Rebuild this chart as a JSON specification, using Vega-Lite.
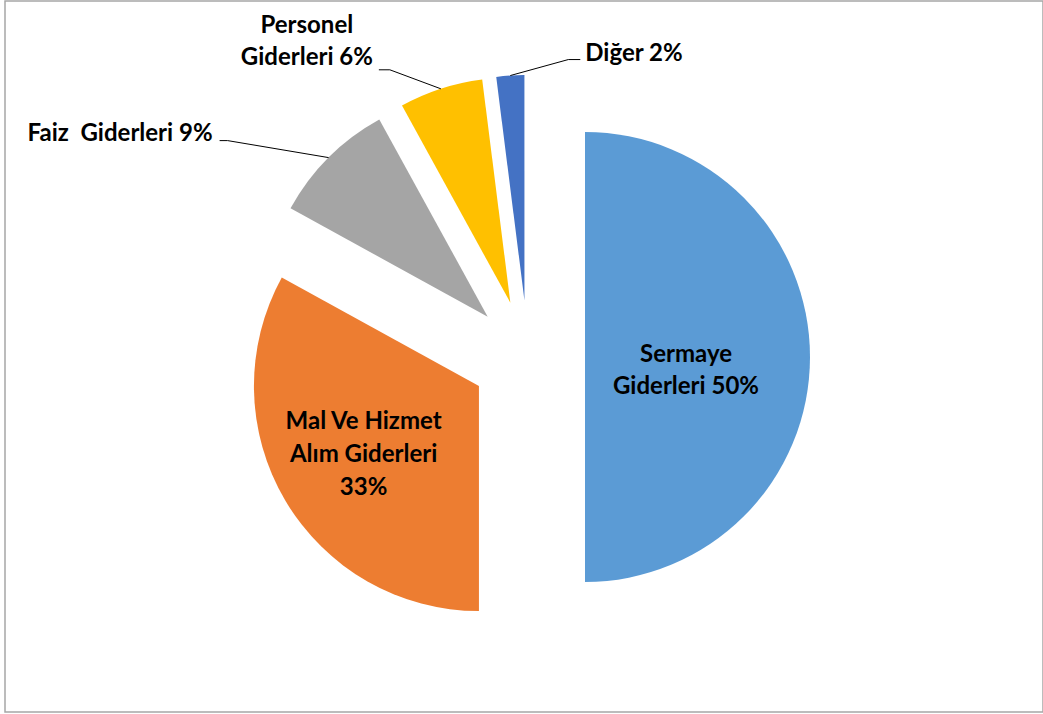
{
  "$schema": "https://vega.github.io/schema/vega-lite/v6.json",
  "width": 1038,
  "height": 711,
  "autosize": {"type": "none"},
  "padding": {"left": 5, "top": 1, "right": 0, "bottom": 2},
  "background": "white",
  "config": {"view": {"stroke": "#A6A6A6", "strokeWidth": 1.5}},
  "data": {"values": [
    {"sira": 1, "ad": "Sermaye Giderleri", "pay": 50, "etiket": "Sermaye\nGiderleri 50%"},
    {"sira": 2, "ad": "Mal Ve Hizmet Alım Giderleri", "pay": 33, "etiket": "Mal Ve Hizmet\nAlım Giderleri\n33%"},
    {"sira": 3, "ad": "Faiz Giderleri", "pay": 9, "etiket": "Faiz\u00a0 Giderleri 9%"},
    {"sira": 4, "ad": "Personel Giderleri", "pay": 6, "etiket": "Personel\nGiderleri 6%"},
    {"sira": 5, "ad": "Diğer", "pay": 2, "etiket": "Diğer 2%"}
  ]},
  "transform": [
    {"window": [{"op": "sum", "field": "pay", "as": "bitis"}], "sort": [{"field": "sira"}], "frame": [null, 0]},
    {"joinaggregate": [{"op": "sum", "field": "pay", "as": "toplam"}]},
    {"calculate": "100*(datum.bitis-datum.pay)/datum.toplam", "as": "t0"},
    {"calculate": "100*datum.bitis/datum.toplam", "as": "t1"},
    {"calculate": "(datum.t0+datum.t1)/2", "as": "tm"},
    {"calculate": "datum.tm*PI/50", "as": "aci"},
    {"calculate": "57*sin(datum.aci)", "as": "ex"},
    {"calculate": "-57*cos(datum.aci)", "as": "ey"},
    {"calculate": "datum.ex+225*sin(datum.aci)", "as": "kx"},
    {"calculate": "datum.ey-225*cos(datum.aci)", "as": "ky"}
  ],
  "layer": [
    {
      "mark": {"type": "arc", "radius": 225},
      "encoding": {
        "x": {"field": "ex", "type": "quantitative", "scale": {"domain": [-523, 515], "range": [0, 1038], "nice": false, "zero": false}, "axis": null},
        "y": {"field": "ey", "type": "quantitative", "scale": {"domain": [-356, 355], "range": [0, 711], "nice": false, "zero": false}, "axis": null},
        "theta": {"field": "t0", "type": "quantitative", "stack": null, "scale": {"domain": [0, 100], "range": [0, 6.283185307179586]}},
        "theta2": {"field": "t1"},
        "color": {"field": "ad", "type": "nominal", "legend": null, "scale": {
          "domain": ["Sermaye Giderleri", "Mal Ve Hizmet Alım Giderleri", "Faiz Giderleri", "Personel Giderleri", "Diğer"],
          "range": ["#5B9BD5", "#ED7D31", "#A5A5A5", "#FFC000", "#4472C4"]}}
      }
    },
    {
      "transform": [{"filter": "datum.sira == 1"}],
      "mark": {"type": "text", "radius": 101, "dy": -2, "align": "center", "baseline": "middle", "lineBreak": "\n", "lineHeight": 32, "fontSize": 24, "fontWeight": "bold", "font": "Lato", "color": "#000000"},
      "encoding": {
        "x": {"field": "ex", "type": "quantitative", "scale": {"domain": [-523, 515], "range": [0, 1038], "nice": false, "zero": false}, "axis": null},
        "y": {"field": "ey", "type": "quantitative", "scale": {"domain": [-356, 355], "range": [0, 711], "nice": false, "zero": false}, "axis": null},
        "theta": {"field": "tm", "type": "quantitative", "stack": null, "scale": {"domain": [0, 100], "range": [0, 6.283185307179586]}},
        "text": {"field": "etiket"}
      }
    },
    {
      "transform": [{"filter": "datum.sira == 2"}],
      "mark": {"type": "text", "radius": 134, "dy": -32, "align": "center", "baseline": "middle", "lineBreak": "\n", "lineHeight": 33, "fontSize": 24, "fontWeight": "bold", "font": "Lato", "color": "#000000"},
      "encoding": {
        "x": {"field": "ex", "type": "quantitative", "scale": {"domain": [-523, 515], "range": [0, 1038], "nice": false, "zero": false}, "axis": null},
        "y": {"field": "ey", "type": "quantitative", "scale": {"domain": [-356, 355], "range": [0, 711], "nice": false, "zero": false}, "axis": null},
        "theta": {"field": "tm", "type": "quantitative", "stack": null, "scale": {"domain": [0, 100], "range": [0, 6.283185307179586]}},
        "text": {"field": "etiket"}
      }
    },
    {
      "transform": [
        {"filter": "datum.sira == 3"},
        {"calculate": "datum.kx-101", "as": "dx1"},
        {"calculate": "datum.ky-17", "as": "dy1"},
        {"calculate": "datum.dx1-8", "as": "ux"}
      ],
      "layer": [
        {
          "mark": {"type": "rule", "color": "#000000", "strokeWidth": 1},
          "encoding": {
            "x": {"field": "kx", "type": "quantitative", "scale": {"domain": [-523, 515], "range": [0, 1038], "nice": false, "zero": false}, "axis": null},
            "y": {"field": "ky", "type": "quantitative", "scale": {"domain": [-356, 355], "range": [0, 711], "nice": false, "zero": false}, "axis": null},
            "x2": {"field": "dx1"},
            "y2": {"field": "dy1"}
          }
        },
        {
          "mark": {"type": "rule", "color": "#000000", "strokeWidth": 1},
          "encoding": {
            "x": {"field": "dx1", "type": "quantitative", "scale": {"domain": [-523, 515], "range": [0, 1038], "nice": false, "zero": false}, "axis": null},
            "y": {"field": "dy1", "type": "quantitative", "scale": {"domain": [-356, 355], "range": [0, 711], "nice": false, "zero": false}, "axis": null},
            "x2": {"field": "ux"},
            "y2": {"field": "dy1"}
          }
        },
        {
          "mark": {"type": "text", "align": "right", "baseline": "alphabetic", "dx": -7, "dy": 0, "fontSize": 24, "fontWeight": "bold", "font": "Lato", "color": "#000000"},
          "encoding": {
            "x": {"field": "ux", "type": "quantitative", "scale": {"domain": [-523, 515], "range": [0, 1038], "nice": false, "zero": false}, "axis": null},
            "y": {"field": "dy1", "type": "quantitative", "scale": {"domain": [-356, 355], "range": [0, 711], "nice": false, "zero": false}, "axis": null},
            "text": {"field": "etiket"}
          }
        }
      ]
    },
    {
      "transform": [
        {"filter": "datum.sira == 4"},
        {"calculate": "datum.kx-51", "as": "dx1"},
        {"calculate": "datum.ky-19", "as": "dy1"},
        {"calculate": "datum.dx1-11", "as": "ux"}
      ],
      "layer": [
        {
          "mark": {"type": "rule", "color": "#000000", "strokeWidth": 1},
          "encoding": {
            "x": {"field": "kx", "type": "quantitative", "scale": {"domain": [-523, 515], "range": [0, 1038], "nice": false, "zero": false}, "axis": null},
            "y": {"field": "ky", "type": "quantitative", "scale": {"domain": [-356, 355], "range": [0, 711], "nice": false, "zero": false}, "axis": null},
            "x2": {"field": "dx1"},
            "y2": {"field": "dy1"}
          }
        },
        {
          "mark": {"type": "rule", "color": "#000000", "strokeWidth": 1},
          "encoding": {
            "x": {"field": "dx1", "type": "quantitative", "scale": {"domain": [-523, 515], "range": [0, 1038], "nice": false, "zero": false}, "axis": null},
            "y": {"field": "dy1", "type": "quantitative", "scale": {"domain": [-356, 355], "range": [0, 711], "nice": false, "zero": false}, "axis": null},
            "x2": {"field": "ux"},
            "y2": {"field": "dy1"}
          }
        },
        {
          "mark": {"type": "text", "align": "center", "baseline": "alphabetic", "lineBreak": "\n", "lineHeight": 32.6, "dx": -72, "dy": -37, "fontSize": 24, "fontWeight": "bold", "font": "Lato", "color": "#000000"},
          "encoding": {
            "x": {"field": "ux", "type": "quantitative", "scale": {"domain": [-523, 515], "range": [0, 1038], "nice": false, "zero": false}, "axis": null},
            "y": {"field": "dy1", "type": "quantitative", "scale": {"domain": [-356, 355], "range": [0, 711], "nice": false, "zero": false}, "axis": null},
            "text": {"field": "etiket"}
          }
        }
      ]
    },
    {
      "transform": [
        {"filter": "datum.sira == 5"},
        {"calculate": "datum.kx+58", "as": "dx1"},
        {"calculate": "datum.ky-16", "as": "dy1"},
        {"calculate": "datum.dx1+12", "as": "ux"}
      ],
      "layer": [
        {
          "mark": {"type": "rule", "color": "#000000", "strokeWidth": 1},
          "encoding": {
            "x": {"field": "kx", "type": "quantitative", "scale": {"domain": [-523, 515], "range": [0, 1038], "nice": false, "zero": false}, "axis": null},
            "y": {"field": "ky", "type": "quantitative", "scale": {"domain": [-356, 355], "range": [0, 711], "nice": false, "zero": false}, "axis": null},
            "x2": {"field": "dx1"},
            "y2": {"field": "dy1"}
          }
        },
        {
          "mark": {"type": "rule", "color": "#000000", "strokeWidth": 1},
          "encoding": {
            "x": {"field": "dx1", "type": "quantitative", "scale": {"domain": [-523, 515], "range": [0, 1038], "nice": false, "zero": false}, "axis": null},
            "y": {"field": "dy1", "type": "quantitative", "scale": {"domain": [-356, 355], "range": [0, 711], "nice": false, "zero": false}, "axis": null},
            "x2": {"field": "ux"},
            "y2": {"field": "dy1"}
          }
        },
        {
          "mark": {"type": "text", "align": "left", "baseline": "alphabetic", "dx": 5, "dy": 1, "fontSize": 24, "fontWeight": "bold", "font": "Lato", "color": "#000000"},
          "encoding": {
            "x": {"field": "ux", "type": "quantitative", "scale": {"domain": [-523, 515], "range": [0, 1038], "nice": false, "zero": false}, "axis": null},
            "y": {"field": "dy1", "type": "quantitative", "scale": {"domain": [-356, 355], "range": [0, 711], "nice": false, "zero": false}, "axis": null},
            "text": {"field": "etiket"}
          }
        }
      ]
    }
  ]
}
